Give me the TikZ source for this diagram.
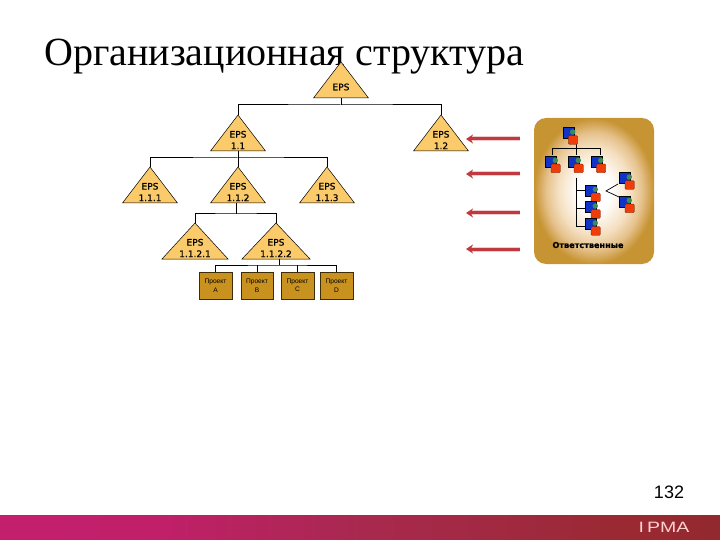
\documentclass[tikz,border=0pt]{standalone}
\usepackage{fontspec}
\setmainfont{Liberation Serif}
\newfontfamily\dvs[FakeBold=0.8]{DejaVu Sans}
\newfontfamily\dvsbold{DejaVu Sans Bold}
\newfontfamily\lsans{Liberation Sans}
\usetikzlibrary{arrows.meta,calc}
\definecolor{trifill}{HTML}{FBCB6B}
\definecolor{boxfill}{HTML}{C9921E}
\definecolor{arrowred}{HTML}{C0393F}
\definecolor{pblue}{HTML}{0F35C8}
\definecolor{pred}{HTML}{F03C08}
\definecolor{pgreen}{HTML}{3E8A5A}
\pgfdeclareradialshading{panelshade}{\pgfpoint{0bp}{0bp}}{
 rgb(0bp)=(1,1,1);rgb(7bp)=(1,1,1);rgb(15bp)=(0.96,0.88,0.76);
 rgb(20bp)=(0.90,0.76,0.55);rgb(25bp)=(0.78,0.58,0.20);rgb(50bp)=(0.78,0.58,0.20)}
\pgfdeclarehorizontalshading{footshade}{100bp}{
 rgb(0bp)=(0.71,0.16,0.33);
 rgb(15bp)=(0.77,0.12,0.43);
 rgb(35bp)=(0.76,0.12,0.42);
 rgb(50bp)=(0.66,0.16,0.31);
 rgb(70bp)=(0.60,0.16,0.19);
 rgb(90bp)=(0.48,0.16,0.16);
 rgb(100bp)=(0.54,0.19,0.19)}
\tikzset{
 x=1pt,y=1pt,
 tri/.style={draw=black,line width=0.5pt,fill=trifill,line join=miter},
 trilabel/.style={font=\dvs\fontsize{9}{11.5}\selectfont,align=center,text=black,inner sep=0pt},
 conn/.style={draw=black,line width=1pt},
 projbox/.style={draw=black!70!boxfill,line width=0.5pt,fill=boxfill,minimum width=32pt,minimum height=27pt,inner sep=0pt,align=center,font=\lsans\fontsize{6.6}{8.5}\selectfont},
 redarrow/.style={draw=arrowred,line width=3pt,-{Stealth[length=7pt,width=9pt]}},
 arrowhalo/.style={draw=arrowred!25,line width=5pt},
 pconn/.style={draw=black,line width=0.7pt},
}
\newcommand{\tricell}[6]{% name cx apexy basey halfw text
 \path[tri] (#2,-#3) -- (#2+#5,-#4) -- (#2-#5,-#4) -- cycle;
 \coordinate (#1-top) at (#2,-#3);
 \coordinate (#1-base) at (#2,-#4);
 \node[trilabel,anchor=center] (#1) at (#2,{-(#4-11)}) {#6};
}
\newcommand{\person}[3]{% name left top
 \fill[pblue] (#2,-#3) rectangle (#2+11,-#3-11);
 \draw[black,line width=0.3pt] (#2,-#3) rectangle (#2+11,-#3-11);
 \fill[pgreen] (#2+10,-#3-4.7) circle (2.7);
 \path[fill=pred,draw=black!60!pred,line width=0.3pt,rounded corners=1pt] (#2+5.7,-#3-8.4) rectangle (#2+15,-#3-17);
}
\begin{document}
\begin{tikzpicture}
\useasboundingbox (0,0) rectangle (720,-540);
\fill[white] (0,0) rectangle (720,-540);
% title
\node[anchor=base west,inner sep=0pt,font=\fontsize{40}{44}\selectfont] (title) at (44,-66) {Организационная структура};
% footer
\path[shading=footshade] (0,-515) rectangle (720,-540);
\node[anchor=center,inner sep=0pt,text=white!82!red,font=\lsans\fontsize{15}{15}\selectfont,transform shape,xscale=1.3] (ipma) at (664,-527.5) {I\,PMA};
\node[anchor=center,inner sep=0pt,font=\lsans\fontsize{18}{20}\selectfont] (pageno) at (669,-492) {132};
% triangles
\tricell{root}{341}{62}{98}{27.5}{EPS}
\tricell{a}{238}{115}{151}{27.5}{EPS\\1.1}
\tricell{b}{441}{115}{151}{27.5}{EPS\\1.2}
\tricell{aa}{150}{167}{203}{27.5}{EPS\\1.1.1}
\tricell{ab}{238}{167}{203}{27.5}{EPS\\1.1.2}
\tricell{ac}{327}{167}{203}{27.5}{EPS\\1.1.3}
\tricell{aba}{195}{223}{259}{33}{EPS\\1.1.2.1}
\tricell{abb}{276}{223}{259}{34}{EPS\\1.1.2.2}
\node[projbox,minimum width=33pt] (pa) at (215.5,-285.5) {\raisebox{-2pt}{\parbox{24pt}{\centering Проект\\А}}};
\node[projbox] (pb) at (257,-285.5) {\raisebox{-2pt}{\parbox{24pt}{\centering Проект\\В}}};
\node[projbox,minimum width=33pt] (pc) at (297.5,-285.5) {Проект\\С};
\node[projbox,minimum width=33pt] (pd) at (336.5,-285.5) {Проект\\D};
% connectors
\draw[conn] (root-base) -- ++(0,-7) coordinate (rj);
\draw[conn] (a-top) |- (rj) -| (b-top);
\draw[conn] (a-base) -- ++(0,-7) coordinate (aj);
\draw[conn] (aa-top) |- (aj) -| (ac-top);
\draw[conn] (aj) -- (ab-top);
\draw[conn] (236,-203) -- (236,-214) coordinate (abj);
\draw[conn] (aba-top) |- (abj) -| (abb-top);
\draw[conn] (279,-259) -- (279,-265) coordinate (abbj);
\draw[conn,line width=0.8pt] (pa.north) |- (abbj) -| (pd.north);
\draw[conn,line width=0.8pt] (pb.north) -- (pb.north|-abbj);
\draw[conn,line width=0.8pt] (pc.north) -- (pc.north|-abbj);
% panel
\path[shading=panelshade,rounded corners=12pt] (534,-118) rectangle (654,-264);
\coordinate (p1j) at (576.3,-148.7);
\draw[pconn] (576.3,-144) -- (p1j);
\draw[pconn] (552.3,-155) -- (552.3,-148.7) -- (600.3,-148.7) -- (600.3,-155);
\draw[pconn] (p1j) -- (576.3,-155);
\draw[pconn] (576.3,-178) -- (576.3,-226.7) -- (585.3,-226.7);
\draw[pconn] (576.3,-190) -- (585.3,-190);
\draw[pconn] (576.3,-208) -- (585.3,-208);
\draw[pconn] (618,-184) -- (606,-191) -- (619,-197);
\person{m0}{562.7}{127.3}
\person{m1}{545.3}{155.7}
\person{m2}{568.3}{155.7}
\person{m3}{590.7}{155.7}
\person{m4}{619.3}{172.3}
\person{m5}{619.3}{195.7}
\person{m6}{585.3}{184.7}
\person{m7}{585.3}{201.3}
\person{m8}{585.3}{218.3}
\node[inner sep=0pt,font=\dvs\bfseries\fontsize{8.1}{9}\selectfont] (resp) at (588,-245) {Ответственные};
% arrows
\coordinate (s1) at (520,-139); \coordinate (e1) at (470,-139);
\coordinate (s2) at (520,-174); \coordinate (e2) at (470,-174);
\coordinate (s3) at (520,-213); \coordinate (e3) at (470,-213);
\coordinate (s4) at (520,-249); \coordinate (e4) at (470,-249);
\foreach \i in {1,2,3,4}{\draw[arrowhalo] (s\i) -- (e\i);}
\coordinate (t1) at (466,-139);
\coordinate (t2) at (466,-174);
\coordinate (t3) at (466,-213);
\coordinate (t4) at (466,-249);
\foreach \i in {1,2,3,4}{\draw[redarrow] (s\i) -- (t\i);}
\end{tikzpicture}
\end{document}
